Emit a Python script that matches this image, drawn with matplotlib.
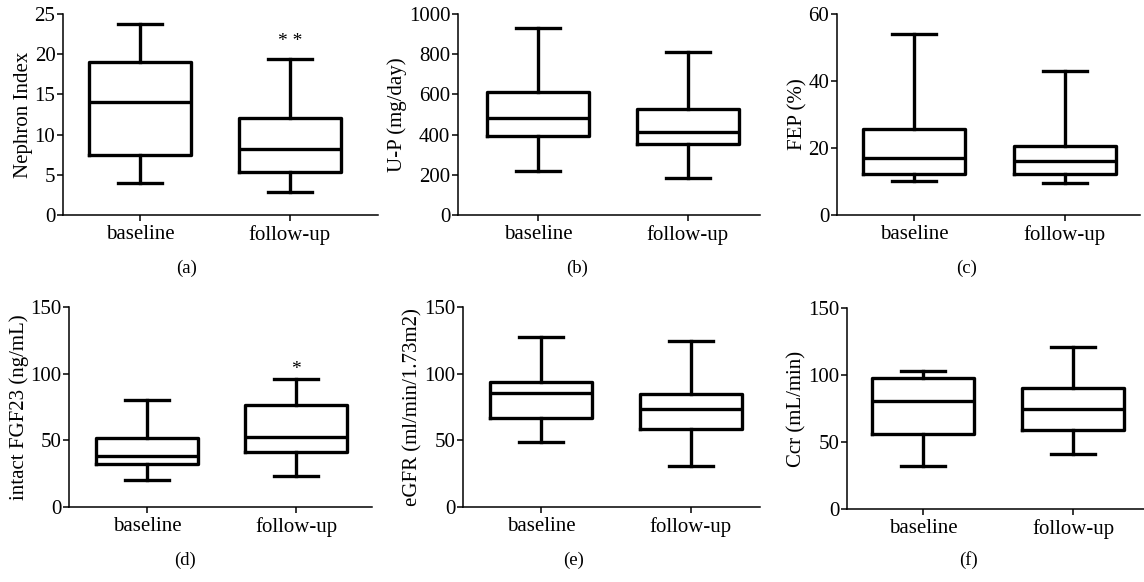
import matplotlib
matplotlib.use('Agg')
from matplotlib import pyplot as plt

plt.rcParams['font.family'] = ['Liberation Serif', 'DejaVu Serif']

groups = ['baseline', 'follow-up']

# whislo, q1, median, q3, whishi
nephron = [[4.0, 7.4, 14.0, 19.0, 23.7], [2.8, 5.4, 8.2, 12.1, 19.4]]
urine_p = [[221, 393, 481, 614, 932], [182, 352, 411, 526, 813]]
fep = [[10.2, 12.3, 16.9, 25.8, 54.0], [9.6, 12.3, 16.0, 20.6, 43.1]]
fgf23 = [[19.9, 32.1, 38.6, 52.1, 80.2], [23.4, 41.6, 52.8, 76.5, 95.7]]
egfr = [[49.1, 67.0, 85.7, 94.0, 127.6], [30.9, 58.3, 73.5, 84.7, 124.3]]
ccr = [[32.4, 55.8, 80.7, 97.7, 102.9], [40.9, 58.6, 74.8, 90.0, 120.9]]

panels = [
    (nephron, 'Nephron Index', 25, [0, 5, 10, 15, 20, 25], '(a)', '* *', 21.6),
    (urine_p, 'U-P (mg/day)', 1000, [0, 200, 400, 600, 800, 1000], '(b)', None, None),
    (fep, 'FEP (%)', 60, [0, 20, 40, 60], '(c)', None, None),
    (fgf23, 'intact FGF23 (ng/mL)', 150, [0, 50, 100, 150], '(d)', '*', 103),
    (egfr, 'eGFR (ml/min/1.73m2)', 150, [0, 50, 100, 150], '(e)', None, None),
    (ccr, 'Ccr (mL/min)', 150, [0, 50, 100, 150], '(f)', None, None),
]

# axes rectangles, x limits and panel tag positions (layout)
rects = [
    [0.0551, 0.6306, 0.2753, 0.3454],
    [0.4003, 0.6306, 0.2640, 0.3454],
    [0.7316, 0.6306, 0.2649, 0.3454],
    [0.0603, 0.1289, 0.2649, 0.3436],
    [0.4047, 0.1289, 0.2596, 0.3436],
    [0.7404, 0.1254, 0.2596, 0.3454],
]
xlims = [(0.487, 2.587), (0.467, 2.48), (0.49, 2.497),
         (0.477, 2.51), (0.48, 2.46), (0.493, 2.473)]
tag_xy = [(187, 268), (577, 268), (967, 268), (185, 560), (574, 560), (969, 560)]

fig = plt.figure(figsize=(11.44, 5.82), dpi=100)

for (vals, ylab, ymax, yticks, tag, star, star_y), rect, xl, txy in zip(panels, rects, xlims, tag_xy):
    ax = fig.add_axes(rect)
    stats = []
    for g, v in zip(groups, vals):
        stats.append(dict(label=g, whislo=v[0], q1=v[1], med=v[2], q3=v[3], whishi=v[4], fliers=[]))
    lw = 2.4
    ax.bxp(stats, positions=[1, 2], widths=0.68, capwidths=0.29, showfliers=False,
           boxprops=dict(color='black', linewidth=lw),
           medianprops=dict(color='black', linewidth=lw),
           whiskerprops=dict(color='black', linewidth=lw),
           capprops=dict(color='black', linewidth=lw))
    ax.set_xlim(*xl)
    ax.set_ylim(0, ymax)
    ax.set_yticks(yticks)
    ax.set_xticks([1, 2])
    ax.set_xticklabels(groups)
    ax.set_ylabel(ylab, fontsize=15, labelpad=1)
    ax.spines['top'].set_visible(False)
    ax.spines['right'].set_visible(False)
    ax.spines['left'].set_linewidth(1.1)
    ax.spines['bottom'].set_linewidth(1.1)
    ax.tick_params(labelsize=15, width=1.1, length=4, pad=1.5)
    ax.tick_params(axis='x', pad=3)
    if star:
        ax.text(2, star_y, star, ha='center', va='center', fontsize=14)
    fig.text(txy[0] / 1144, 1 - txy[1] / 582, tag, ha='center', va='center', fontsize=13.5)

fig.savefig('out.png', dpi=100)
